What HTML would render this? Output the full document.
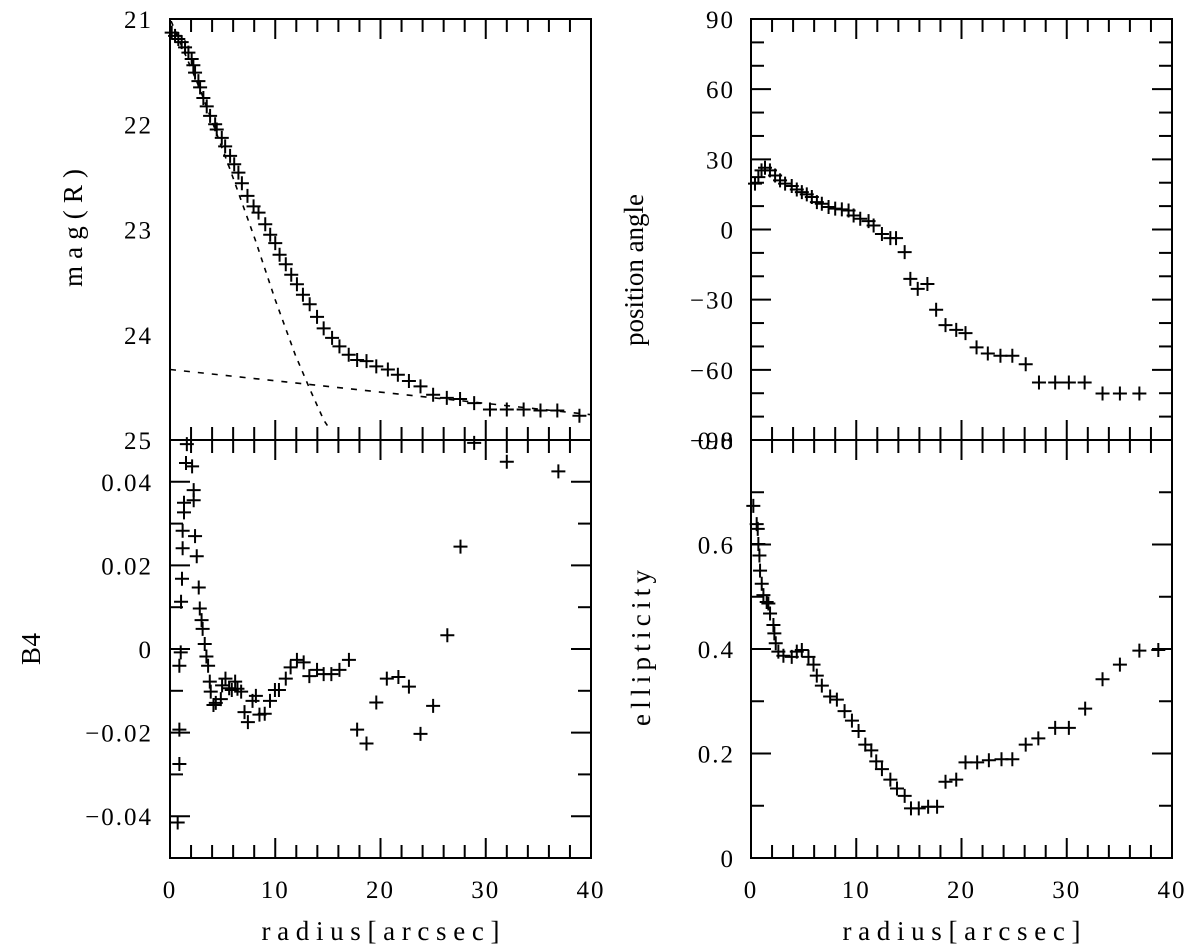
<!DOCTYPE html>
<html><head><meta charset="utf-8"><style>
html,body{margin:0;padding:0;background:#fff;}
svg{display:block;font-family:"Liberation Serif",serif;}
</style></head><body>
<svg id="chart" width="1200" height="952" viewBox="0 0 1200 952" xmlns="http://www.w3.org/2000/svg">
<rect width="1200" height="952" fill="#fff"/>
<g id="g"></g>
</svg>
<script>
// ---- data ----
const xTicks=[0,10,20,30,40];
const magX=[0.16,0.48,0.79,1.11,1.43,1.75,2.06,2.22,2.38,2.70,2.86,3.17,3.49,3.81,4.29,4.44,4.92,5.24,5.71,6.1,6.5,6.83,7.36,7.94,8.41,9.05,9.52,10.0,10.41,11.0,11.52,12.06,12.63,13.27,13.97,14.6,15.4,16.1,16.98,17.78,18.67,19.6,20.7,21.65,22.7,23.8,25.0,26.3,27.56,28.9,30.4,32.0,33.6,35.2,36.8,38.9];
const magY=[21.13,21.16,21.19,21.22,21.27,21.32,21.38,21.44,21.51,21.59,21.65,21.75,21.83,21.92,22.0,22.05,22.13,22.21,22.30,22.38,22.46,22.56,22.68,22.78,22.84,22.95,23.05,23.13,23.24,23.33,23.43,23.52,23.62,23.71,23.83,23.94,24.03,24.11,24.19,24.24,24.25,24.30,24.33,24.38,24.44,24.49,24.57,24.60,24.61,24.65,24.71,24.71,24.71,24.72,24.72,24.77];
const bulgeX=[0.1,2.86,5.71,8.1,10,11.9,13.3,14.6,15.2];
const bulgeY=[21.02,21.67,22.43,23.1,23.67,24.19,24.52,24.81,24.9];
const diskX=[0,40];
const diskY=[24.33,24.76];
const magTicks=[21,22,23,24,25];
const b4X=[1.6,1.52,2.1,2.25,2.25,1.33,1.33,1.2,2.38,1.2,2.54,1.14,2.73,1.05,2.83,3.0,3.1,3.3,1.02,3.46,0.89,3.62,3.78,3.87,4.13,4.35,4.83,4.95,5.27,5.62,5.87,6.19,6.41,6.76,7.08,7.4,7.84,8.16,8.5,9.0,9.5,9.97,10.35,11.0,11.46,12.06,12.7,13.24,13.97,14.6,15.33,16.1,17.0,17.78,18.67,19.6,20.6,21.7,22.7,23.8,25.0,26.35,27.6,28.9,32.0,36.9,0.89,0.89,0.73];
const b4Y=[0.049,0.0445,0.0437,0.038,0.0356,0.035,0.0327,0.0283,0.027,0.0241,0.0222,0.0168,0.0147,0.0113,0.0097,0.0069,0.0048,0.0012,-0.0008,-0.0018,-0.004,-0.004,-0.0078,-0.0102,-0.0134,-0.0129,-0.012,-0.0087,-0.0071,-0.0094,-0.0098,-0.0078,-0.0095,-0.0102,-0.0151,-0.0175,-0.0124,-0.0112,-0.0157,-0.0155,-0.0124,-0.0098,-0.0098,-0.0071,-0.0044,-0.0026,-0.0032,-0.0065,-0.005,-0.006,-0.006,-0.005,-0.0026,-0.0193,-0.0226,-0.0128,-0.0071,-0.0067,-0.009,-0.0203,-0.0136,0.0033,0.0245,0.0493,0.0448,0.0425,-0.0193,-0.0275,-0.0415];
const b4Ticks=[0.04,0.02,0,-0.02,-0.04];
const b4Labels=["0.04","0.02","0","\u22120.02","\u22120.04"];
const paX=[0.38,0.7,1.0,1.33,1.8,2.29,2.76,3.24,3.87,4.35,4.83,5.3,5.78,6.26,6.73,7.37,8.0,8.63,9.27,9.75,10.38,11.17,11.65,12.44,13.24,13.78,14.6,15.14,15.84,16.76,17.59,18.48,19.5,20.38,21.43,22.5,23.7,24.83,26.1,27.36,28.9,30.2,31.7,33.4,35.05,36.9];
const paY=[19.6,22.4,25.3,26.4,25.3,23.1,21.0,19.6,18.6,17.1,16.0,15.0,13.9,11.7,11.0,9.6,8.9,8.6,8.1,6.0,4.6,3.6,1.7,-1.9,-3.7,-3.7,-9.7,-21.1,-25.4,-23.3,-34.3,-40.9,-42.9,-44.3,-50.4,-53.0,-54.0,-54.0,-57.6,-65.4,-65.4,-65.4,-65.4,-70.1,-70.1,-70.1];
const paTicks=[90,60,30,0,-30,-60,-90];
const paLabels=["90","60","30","0","\u221230","\u221260","\u221290"];
const ellX=[0.22,0.54,0.64,0.7,0.8,0.86,1.02,1.18,1.49,1.65,1.81,2.13,2.22,2.35,2.6,3.08,3.87,4.35,4.83,5.46,5.94,6.25,6.73,7.52,8.16,8.89,9.59,10.22,10.86,11.43,11.9,12.44,13.24,13.87,14.6,15.2,15.94,16.83,17.68,18.48,19.5,20.38,21.49,22.6,23.8,24.83,26.1,27.3,28.9,30.2,31.75,33.4,35.05,36.9,38.7];
const ellY=[0.674,0.639,0.630,0.601,0.579,0.550,0.525,0.503,0.490,0.487,0.468,0.446,0.430,0.411,0.395,0.387,0.385,0.395,0.398,0.385,0.370,0.349,0.330,0.309,0.303,0.281,0.263,0.243,0.217,0.206,0.185,0.170,0.150,0.133,0.119,0.095,0.095,0.098,0.098,0.146,0.150,0.183,0.183,0.187,0.189,0.189,0.217,0.229,0.249,0.249,0.286,0.342,0.370,0.397,0.398];
const ellTicks=[0,0.2,0.4,0.6];
const ellLabels=["0","0.2","0.4","0.6"];

const NS="http://www.w3.org/2000/svg";
const G=document.getElementById('g');
function el(tag,attrs,parent){const e=document.createElementNS(NS,tag);for(const k in attrs)e.setAttribute(k,attrs[k]);(parent||G).appendChild(e);return e;}

const TOP=19,MID=440,BOT=858;
const panels=[
 {name:'mag-panel',x0:170,x1:591,y0:TOP,y1:MID,ymin:25,ymax:21,minor:0.2,major:1},
 {name:'b4-panel',x0:170,x1:591,y0:MID,y1:BOT,ymin:-0.05,ymax:0.05,minor:0.01,major:0.02},
 {name:'pa-panel',x0:751,x1:1172,y0:TOP,y1:MID,ymin:-90,ymax:90,minor:10,major:30},
 {name:'ellipticity-panel',x0:751,x1:1172,y0:MID,y1:BOT,ymin:0,ymax:0.8,minor:0.1,major:0.2}
];
panels.forEach(p=>{
 p.sx=v=>p.x0+(v/40)*(p.x1-p.x0);
 p.sy=v=>p.y1-(v-p.ymin)/(p.ymax-p.ymin)*(p.y1-p.y0);
});
function frame(p){
 const g=el('g',{});
 
 
 el('rect',{x:p.x0,y:p.y0,width:p.x1-p.x0,height:p.y1-p.y0,fill:'none',stroke:'#000','stroke-width':2},g);
 for(let v=0;v<=40.001;v+=2){
  const x=p.sx(v);const L=(Math.round(v)%10===0)?20:13;
  el('line',{x1:x,y1:p.y0,x2:x,y2:p.y0+L,stroke:'#000','stroke-width':2},g);
  el('line',{x1:x,y1:p.y1,x2:x,y2:p.y1-L,stroke:'#000','stroke-width':2},g);
 }
 const n=Math.round((p.ymax-p.ymin)/p.minor);
 for(let i=0;i<=n;i++){
  const v=p.ymin+i*p.minor;const y=p.sy(v);
  const maj=Math.abs(v/p.major-Math.round(v/p.major))<1e-6;const L=maj?20:13;
  el('line',{x1:p.x0,y1:y,x2:p.x0+L,y2:y,stroke:'#000','stroke-width':2},g);
  el('line',{x1:p.x1,y1:y,x2:p.x1-L,y2:y,stroke:'#000','stroke-width':2},g);
 }
}
panels.forEach(frame);

function label(txt,x,y,anchor,name,size){
 const t=el('text',{x:x,y:y,'text-anchor':anchor,'font-size':size||25,fill:'#000','letter-spacing':2});
 t.textContent=txt;
 
 
 return t;
}
// x tick labels
[panels[1],panels[3]].forEach((p,j)=>{
 xTicks.forEach(v=>{label(String(v),p.sx(v),898,'middle','x-tick-label');});
 const t=el('text',{x:(p.x0+p.x1)/2,y:940,'text-anchor':'middle','font-size':27,textLength:238,lengthAdjust:'spacing'});
 t.textContent='radius[arcsec]';
 
 
});
// y tick labels
magTicks.forEach(v=>label(String(v),153,panels[0].sy(v)+9,'end','mag-tick-label'));
b4Ticks.forEach((v,i)=>label(b4Labels[i],153,panels[1].sy(v)+9,'end','b4-tick-label'));
paTicks.forEach((v,i)=>label(paLabels[i],735,panels[2].sy(v)+9,'end','pa-tick-label'));
ellTicks.forEach((v,i)=>label(ellLabels[i],735,panels[3].sy(v)+9,'end','ellipticity-tick-label'));
label('0.8',735,panels[3].sy(0.8)+9,'end','ellipticity-tick-label');
function ytitle(txt,x,y,len,name){
 const t=el('text',{x:0,y:0,'text-anchor':'middle','font-size':27,transform:`translate(${x},${y}) rotate(-90)`,textLength:len,lengthAdjust:'spacing'});
 t.textContent=txt;
 
 
}
ytitle('mag(R)',82,228,118,'mag-axis-title');
ytitle('B4',40,649,32,'b4-axis-title');
ytitle('position angle',643,270,152,'pa-axis-title');
ytitle('ellipticity',650,648,156,'ellipticity-axis-title');

// model lines
function line(p,xs,ys,name,dash){
 const d=xs.map((v,i)=>(i?'L':'M')+p.sx(v).toFixed(1)+','+p.sy(ys[i]).toFixed(1)).join(' ');
 const e=el('path',{d:d,fill:'none',stroke:'#000','stroke-width':1.6,'stroke-dasharray':dash});
 
 
}
line(panels[0],bulgeX,bulgeY,'bulge-model-line','5 6');
line(panels[0],diskX,diskY,'disk-model-line','6 8');

function pluses(p,xs,ys,name){
 const g=el('g',{stroke:'#000','stroke-width':2});
 
 
 xs.forEach((v,i)=>{
  const x=p.sx(v),y=p.sy(ys[i]);
  el('path',{d:`M${x-7},${y}H${x+7}M${x},${y-7}V${y+7}`},g);
 });
}
pluses(panels[0],magX,magY,'mag-points');
pluses(panels[1],b4X,b4Y,'b4-points');
pluses(panels[2],paX,paY,'pa-points');
pluses(panels[3],ellX,ellY,'ellipticity-points');
</script>
</body></html>
